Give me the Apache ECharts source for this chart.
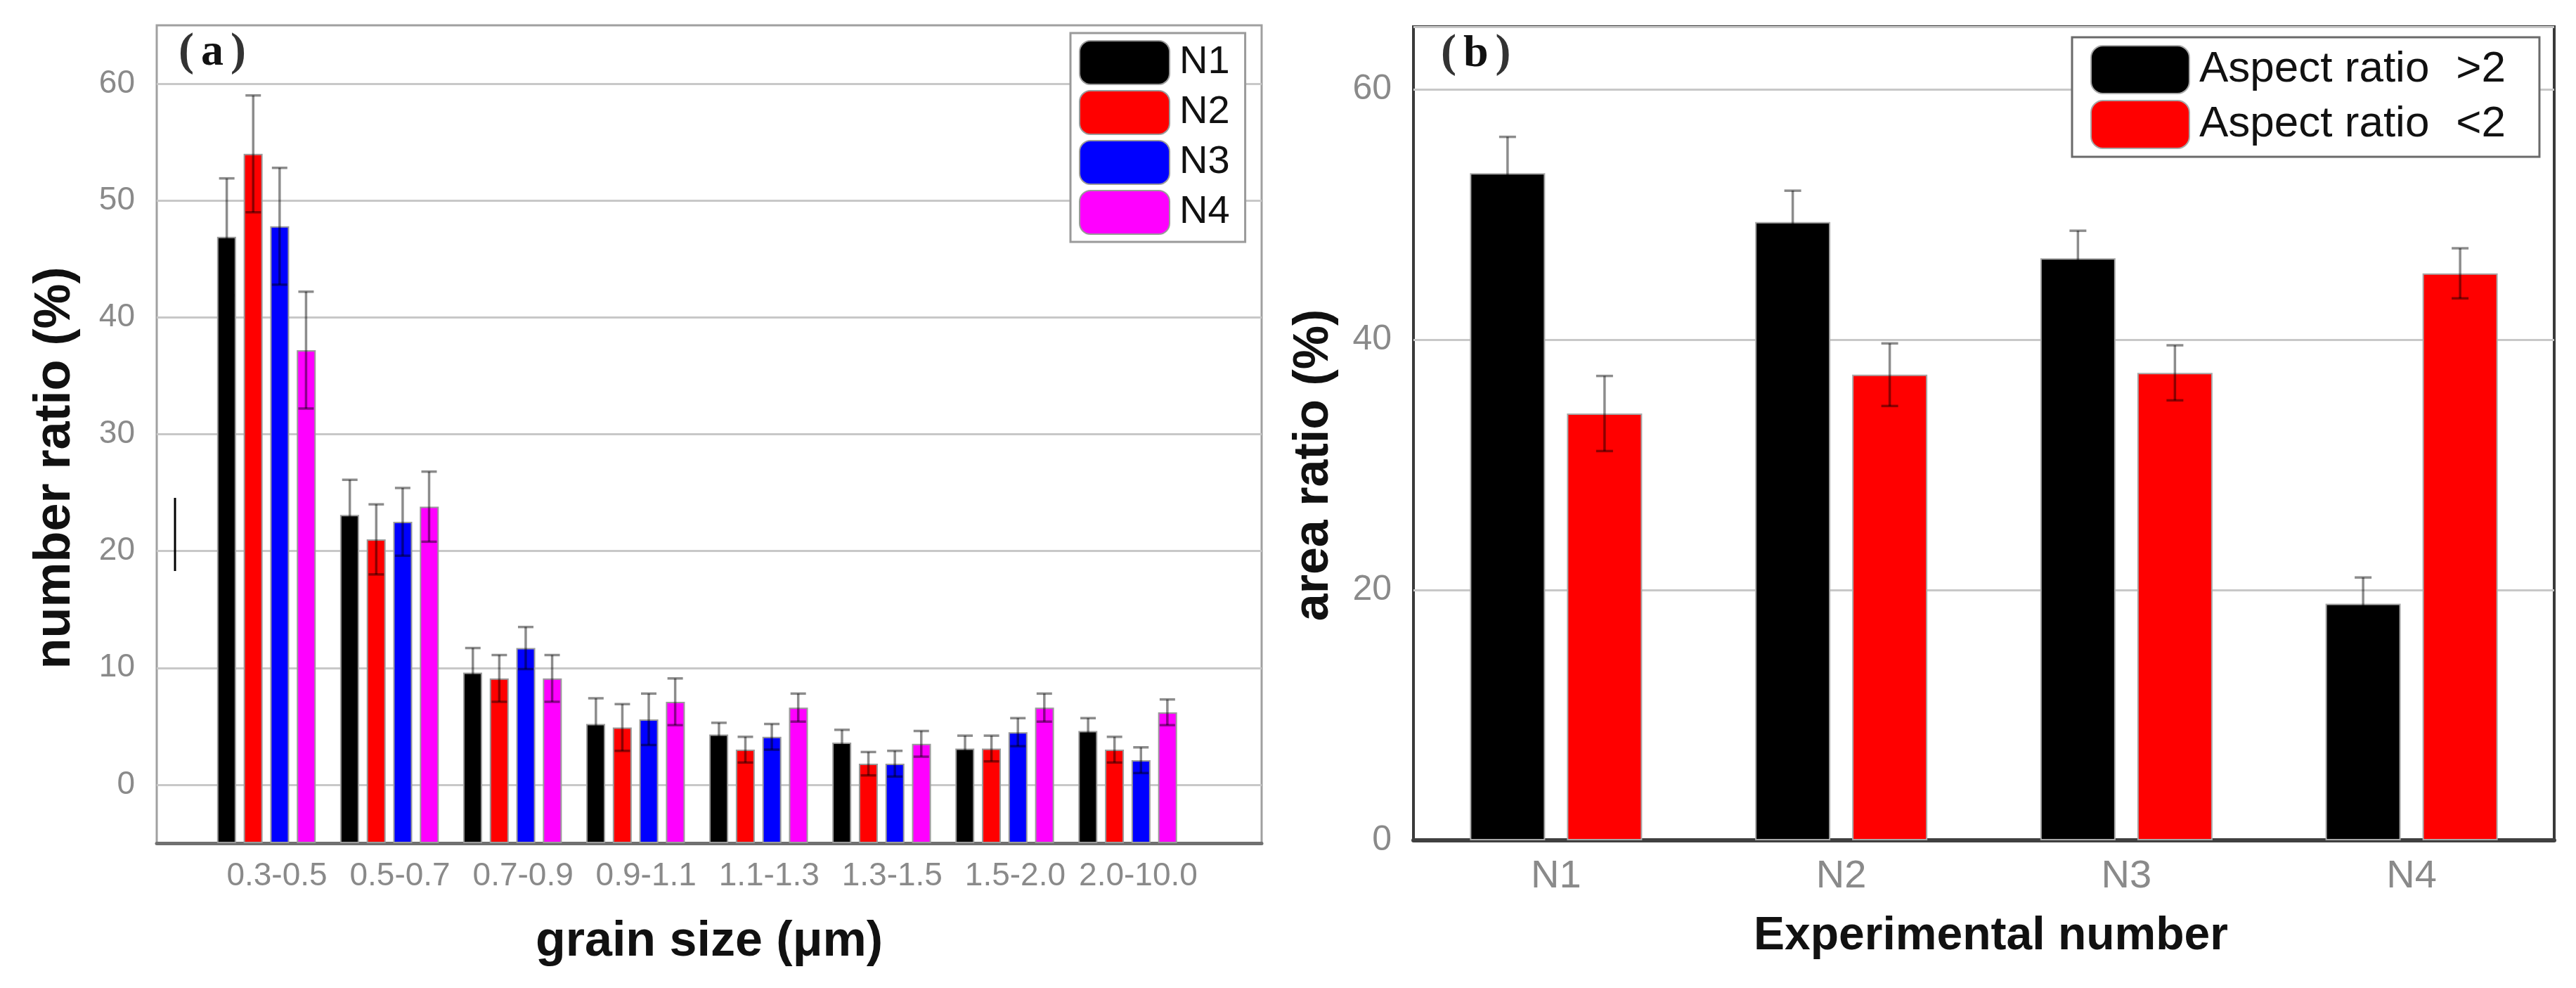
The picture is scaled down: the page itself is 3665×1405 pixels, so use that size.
<!DOCTYPE html>
<html><head><meta charset="utf-8">
<script src="https://cdn.jsdelivr.net/npm/echarts@6/dist/echarts.min.js"></script>
<style>html,body{margin:0;padding:0;background:#fff}#c{width:3665px;height:1405px}</style>
</head><body><div id="c"></div>
<script>
// ---- Panel (a) data ----
const sizeCats = ['0.3-0.5','0.5-0.7','0.7-0.9','0.9-1.1','1.1-1.3','1.3-1.5','1.5-2.0','2.0-10.0'];
const aNames = ['N1','N2','N3','N4'];
const n1 = [46.9, 23.1, 9.6, 5.2, 4.3, 3.6, 3.1, 4.6];
const n2 = [54.0, 21.0, 9.1, 4.9, 3.0, 1.8, 3.1, 3.0];
const n3 = [47.8, 22.5, 11.7, 5.6, 4.1, 1.8, 4.5, 2.1];
const n4 = [37.2, 23.8, 9.1, 7.1, 6.6, 3.5, 6.6, 6.2];
const n1Err = [5.0, 3.0, 2.1, 2.2, 1.0, 1.1, 1.1, 1.1];
const n2Err = [5.0, 3.0, 2.0, 2.0, 1.1, 1.0, 1.1, 1.1];
const n3Err = [5.0, 2.9, 1.8, 2.2, 1.1, 1.1, 1.2, 1.1];
const n4Err = [5.0, 3.0, 2.0, 2.0, 1.2, 1.1, 1.2, 1.1];
const aTicks = [0, 10, 20, 30, 40, 50, 60];

// ---- Panel (b) data ----
const expCats = ['N1','N2','N3','N4'];
const bNames = ['Aspect ratio \u2004>2', 'Aspect ratio \u2004<2'];
const arHigh = [53.3, 49.4, 46.5, 18.9];
const arLow = [34.1, 37.2, 37.35, 45.3];
const arHighErr = [2.9, 2.5, 2.2, 2.1];
const arLowErr = [3.0, 2.5, 2.2, 2.0];
const bTicks = [0, 20, 40, 60];

// ---- styles ----
const aColors = ['#000000', '#ff0000', '#0000ff', '#ff00ff'];
const bColors = ['#000000', '#ff0000'];
const tickFont = "'Liberation Sans', Arial, sans-serif";
const grayText = '#8a8a8a';
const gridGray = '#c8c8c8';

const aVals = [n1, n2, n3, n4];
const aErrs = [n1Err, n2Err, n3Err, n4Err];
const bVals = [arHigh, arLow];
const bErrs = [arHighErr, arLowErr];

const aBarW = 27, aStep = 37.6;
const bBarW = 107, bStep = 138;

function errSeries(name, vals, errs, xi, yi, offset, capHalf) {
  return {
    type: 'custom', name: name, xAxisIndex: xi, yAxisIndex: yi, z: 5, silent: true,
    data: vals.map((v, i) => [i, v, errs[i]]),
    encode: {x: 0, y: 1},
    renderItem: function (params, api) {
      const c = api.value(0), v = api.value(1), e = api.value(2);
      const top = api.coord([c, v + e]);
      const bot = api.coord([c, v - e]);
      const x = top[0] + offset;
      const st = {stroke: 'rgba(0,0,0,0.45)', lineWidth: 3.5};
      return {type: 'group', children: [
        {type: 'line', shape: {x1: x, y1: top[1], x2: x, y2: bot[1]}, style: st},
        {type: 'line', shape: {x1: x - capHalf, y1: top[1], x2: x + capHalf, y2: top[1]}, style: st},
        {type: 'line', shape: {x1: x - capHalf, y1: bot[1], x2: x + capHalf, y2: bot[1]}, style: st}
      ]};
    }
  };
}

const series = [];
aNames.forEach((nm, k) => {
  series.push({
    type: 'bar', name: nm, xAxisIndex: 1, yAxisIndex: 1, data: aVals[k],
    barWidth: aBarW, barGap: '40%',
    itemStyle: {color: aColors[k], borderColor: '#9a9a9a', borderWidth: 2}
  });
});
aNames.forEach((nm, k) => {
  series.push(errSeries('errA' + k, aVals[k], aErrs[k], 1, 1, (k - 1.5) * aStep, 11));
});
bNames.forEach((nm, k) => {
  series.push({
    type: 'bar', name: nm, xAxisIndex: 2, yAxisIndex: 2, data: bVals[k],
    barWidth: bBarW, barGap: '29%',
    itemStyle: {color: bColors[k], borderColor: '#a8a8a8', borderWidth: 2}
  });
});
bNames.forEach((nm, k) => {
  series.push(errSeries('errB' + k, bVals[k], bErrs[k], 2, 2, (k - 0.5) * bStep, 12));
});

const titleFont = "'Liberation Sans', Arial, sans-serif";
const serif = "'Liberation Serif', 'Times New Roman', serif";
function panelTag(letter, left, top) {
  return {text: '{p|(}{s| }{a|' + letter + '}{s| }{p|)}', left: left, top: top, padding: 0,
    textStyle: {fontSize: 64, fontFamily: serif, color: '#222',
      rich: {p: {fontSize: 66, fontFamily: serif, color: '#333'},
             s: {fontSize: 40, fontFamily: serif},
             a: {fontSize: 64, fontWeight: 'bold', fontFamily: serif, color: '#111'}}}};
}

const option = {
  backgroundColor: '#ffffff',
  animation: false,
  title: [panelTag('a', 254, 42), panelTag('b', 2050, 44)],
  legend: [
    {data: aNames, orient: 'vertical', left: 1523, top: 47, selectedMode: false,
     itemWidth: 128, itemHeight: 62, itemGap: 7, padding: [10, 22, 10, 12],
     borderColor: '#9a9a9a', borderWidth: 3, backgroundColor: '#fff',
     textStyle: {fontSize: 56, lineHeight: 56, color: '#111', fontFamily: tickFont, padding: [0, 0, 0, 9]}},
    {data: bNames, orient: 'vertical', left: 2948, top: 53, selectedMode: false,
     itemWidth: 140, itemHeight: 68, itemGap: 8, padding: [11, 48, 11, 26],
     borderColor: '#6a6a6a', borderWidth: 3, backgroundColor: '#fff',
     textStyle: {fontSize: 62, lineHeight: 62, color: '#111', fontFamily: tickFont, padding: [0, 0, 0, 9]}}
  ],
  grid: [
    {left: 223, top: 36, width: 1572, height: 1163, show: true, borderColor: '#a0a0a0', borderWidth: 3, containLabel: false},
    {left: 291.5, top: 36, width: 1400.5, height: 1163, containLabel: false},
    {left: 2011, top: 38, width: 1623, height: 1157, show: true, borderColor: '#3a3a3a', borderWidth: 4, containLabel: false}
  ],
  xAxis: [
    {type: 'value', gridIndex: 0, min: 0, max: 1, show: true,
     axisLine: {show: true, onZero: false, lineStyle: {color: '#707070', width: 5}},
     axisTick: {show: false}, axisLabel: {show: false}, splitLine: {show: false},
     name: 'grain size (\u03BCm)', nameLocation: 'middle', nameGap: 106,
     nameTextStyle: {fontSize: 70, fontWeight: 'bold', color: '#111', fontFamily: titleFont}},
    {type: 'category', gridIndex: 1, data: sizeCats, boundaryGap: true,
     axisLine: {show: false, onZero: false}, axisTick: {show: false},
     axisLabel: {color: grayText, fontSize: 46, fontFamily: tickFont, margin: 24, interval: 0, padding: [0, 0, 0, 30]}},
    {type: 'category', gridIndex: 2, data: expCats, boundaryGap: true,
     axisLine: {show: true, onZero: false, lineStyle: {color: '#404040', width: 6}}, axisTick: {show: false},
     axisLabel: {color: grayText, fontSize: 56, fontFamily: tickFont, margin: 24},
     name: 'Experimental number', nameLocation: 'middle', nameGap: 104,
     nameTextStyle: {fontSize: 66, fontWeight: 'bold', color: '#111', fontFamily: titleFont, padding: [0, 0, 0, 20]}}
  ],
  yAxis: [
    {type: 'value', gridIndex: 0, min: -5, max: 65, interval: 5,
     axisLine: {show: false}, axisTick: {show: false},
     axisLabel: {color: grayText, fontSize: 46, fontFamily: tickFont, margin: 31,
       formatter: v => (aTicks.indexOf(v) >= 0 ? String(v) : '')},
     splitLine: {show: true, lineStyle: {color: ['rgba(0,0,0,0)', gridGray], width: 3}},
     name: 'number ratio (%)', nameLocation: 'middle', nameGap: 108,
     nameTextStyle: {fontSize: 72, fontWeight: 'bold', color: '#111', fontFamily: titleFont, padding: [0, 96, 0, 0]}},
    {type: 'value', gridIndex: 1, min: -5, max: 65, startValue: -5, show: false, splitLine: {show: false}},
    {type: 'value', gridIndex: 2, min: 0, max: 65, interval: 20,
     axisLine: {show: false}, axisTick: {show: false},
     axisLabel: {color: grayText, fontSize: 50, fontFamily: tickFont, margin: 31,
       formatter: v => (bTicks.indexOf(v) >= 0 ? String(v) : '')},
     splitLine: {show: true, lineStyle: {color: gridGray, width: 3}},
     name: 'area ratio (%)', nameLocation: 'middle', nameGap: 106,
     nameTextStyle: {fontSize: 70, fontWeight: 'bold', color: '#111', fontFamily: titleFont, padding: [0, 90, 0, 0]}}
  ],
  graphic: [
    {type: 'line', shape: {x1: 249, y1: 708, x2: 249, y2: 812}, style: {stroke: '#000', lineWidth: 3}, z: 10}
  ],
  series: series
};

const chart = echarts.init(document.getElementById('c'), null, {renderer: 'canvas'});
chart.setOption(option);
</script></body></html>
